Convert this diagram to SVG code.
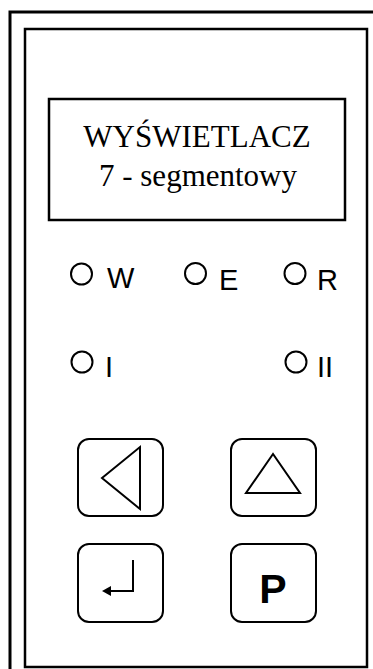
<svg xmlns="http://www.w3.org/2000/svg" width="373" height="669" viewBox="0 0 373 669">
<style>
.frame{fill:none;stroke:#000;stroke-width:2.5}
.btn{fill:none;stroke:#000;stroke-width:2}
.led{fill:none;stroke:#000;stroke-width:2}
.lbl{font-family:"Liberation Sans",Arial,sans-serif;font-size:29px;fill:#000}
.disp{font-family:"Liberation Serif","Times New Roman",serif;font-size:31px;fill:#000;text-anchor:middle}
</style>
<rect x="0" y="0" width="373" height="669" fill="#fff"/>
<g id="housing">
<rect x="10" y="12" width="380" height="680" fill="none" stroke="#000" stroke-width="3"/>
<rect class="frame" x="25" y="29" width="342" height="638"/>
</g>
<g id="display">
<rect x="49" y="99" width="296" height="121" fill="none" stroke="#000" stroke-width="2.5"/>
<text class="disp" x="197" y="147">WYŚWIETLACZ</text>
<text class="disp" x="198" y="186">7 - segmentowy</text>
</g>
<g id="led-W"><circle class="led" cx="81.5" cy="274" r="10.5"/><text class="lbl" x="107" y="288">W</text></g>
<g id="led-E"><circle class="led" cx="195.5" cy="273.5" r="10.5"/><text class="lbl" x="219" y="290">E</text></g>
<g id="led-R"><circle class="led" cx="295" cy="273.5" r="10.5"/><text class="lbl" x="317" y="290">R</text></g>
<g id="led-I"><circle class="led" cx="82" cy="362" r="10.5"/><text class="lbl" x="105" y="377">I</text></g>
<g id="led-II"><circle class="led" cx="296" cy="362" r="10.5"/><text class="lbl" x="317" y="377">II</text></g>
<g id="btn-left">
<rect class="btn" x="78" y="439" width="85" height="77" rx="11"/>
<path d="M102,478 L140,447 L140,509 Z" fill="none" stroke="#000" stroke-width="2"/>
</g>
<g id="btn-up">
<rect class="btn" x="231" y="439" width="85" height="77" rx="11"/>
<path d="M273,454 L246,493 L300,493 Z" fill="none" stroke="#000" stroke-width="2"/>
</g>
<g id="btn-enter">
<rect class="btn" x="78" y="544" width="85" height="78" rx="11"/>
<path d="M133,560 L133,591 L110,591" fill="none" stroke="#000" stroke-width="2"/>
<path d="M102,591 L111,586 L111,596 Z" fill="#000"/>
</g>
<g id="btn-p">
<rect class="btn" x="231" y="544" width="85" height="78" rx="11"/>
<text x="273" y="603" font-family="'Liberation Sans',Arial,sans-serif" font-size="41" font-weight="bold" text-anchor="middle">P</text>
</g>
</svg>
